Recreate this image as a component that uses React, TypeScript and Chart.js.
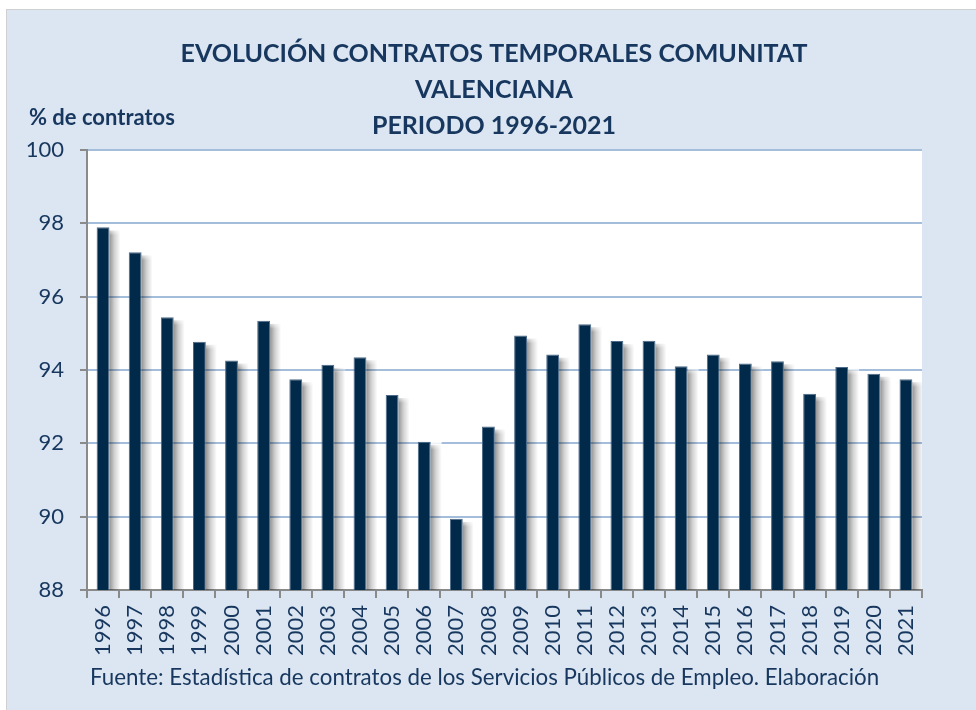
import React, { useEffect, useRef } from 'react';
import { Chart, registerables } from 'chart.js';

Chart.register(...registerables);

const years = [
  '1996', '1997', '1998', '1999', '2000', '2001', '2002', '2003', '2004',
  '2005', '2006', '2007', '2008', '2009', '2010', '2011', '2012', '2013',
  '2014', '2015', '2016', '2017', '2018', '2019', '2020', '2021',
];
const temporalPct = [
  97.89, 97.21, 95.44, 94.77, 94.26, 95.34, 93.75, 94.14, 94.35,
  93.32, 92.04, 89.94, 92.46, 94.94, 94.42, 95.25, 94.79, 94.80,
  94.10, 94.42, 94.18, 94.24, 93.35, 94.08, 93.90, 93.75,
];
const titleLines = [
  'EVOLUCIÓN CONTRATOS TEMPORALES COMUNITAT',
  'VALENCIANA',
  'PERIODO 1996-2021',
];
const yAxisLabel = '% de contratos';
const sourceText =
  'Fuente: Estadística de contratos de los Servicios Públicos de Empleo. Elaboración';
const yMin = 88;
const yMax = 100;
const yStep = 2;

const NAVY = '#17375e';
const BAR = '#00294a';
const GRID = '#a3bddb';
const AXIS = '#8a8a8a';
const FONT = 'Lato, "Open Sans", sans-serif';

const W = 969;
const H = 700;

const plotBgPlugin = {
  id: 'plotBg',
  beforeDraw(chart: any) {
    const { ctx, chartArea } = chart;
    ctx.save();
    ctx.fillStyle = '#ffffff';
    ctx.fillRect(chartArea.left, chartArea.top, chartArea.right - chartArea.left, chartArea.bottom - chartArea.top);
    ctx.restore();
  },
};

// soft drop shadow to the right of each bar, based on the bar elements' computed geometry
const shadowPlugin = {
  id: 'barShadow',
  beforeDatasetsDraw(chart: any) {
    const ctx = chart.ctx;
    const meta = chart.getDatasetMeta(0);
    const area = chart.chartArea;
    ctx.save();
    ctx.beginPath();
    ctx.rect(area.left, area.top, area.right - area.left, area.bottom - area.top);
    ctx.clip();
    meta.data.forEach((bar: any) => {
      const props = bar.getProps(['x', 'y', 'base', 'width'], true);
      const right = props.x + props.width / 2;
      const top = props.y + 3;
      const bottom = props.base;
      const w = 11;
      const g = ctx.createLinearGradient(right, 0, right + w, 0);
      g.addColorStop(0, 'rgba(0,0,0,0.42)');
      g.addColorStop(0.45, 'rgba(0,0,0,0.18)');
      g.addColorStop(1, 'rgba(0,0,0,0)');
      ctx.fillStyle = g;
      ctx.fillRect(right, top, w, bottom - top);
      // fade at the top of the shadow
      const g2 = ctx.createLinearGradient(0, top - 3, 0, top + 5);
      g2.addColorStop(0, 'rgba(255,255,255,1)');
      g2.addColorStop(1, 'rgba(255,255,255,0)');
      ctx.fillStyle = g2;
      ctx.fillRect(right, top - 3, w, 8);
    });
    ctx.restore();
  },
};

const textPlugin = {
  id: 'texts',
  afterDraw(chart: any) {
    const ctx = chart.ctx;
    ctx.save();
    ctx.fillStyle = NAVY;
    ctx.textBaseline = 'alphabetic';
    ctx.textAlign = 'center';
    ctx.font = `bold 25px ${FONT}`;
    const baselines = [52, 88, 124];
    titleLines.forEach((line, i) => ctx.fillText(line, 487, baselines[i]));
    ctx.textAlign = 'left';
    ctx.font = `bold 22px ${FONT}`;
    ctx.fillText(yAxisLabel, 22, 115);
    ctx.font = `22.3px ${FONT}`;
    ctx.fillText(sourceText, 83, 675);
    ctx.restore();
  },
};

export default function App() {
  const canvasRef = useRef<HTMLCanvasElement | null>(null);

  useEffect(() => {
    let chart: Chart | null = null;
    let cancelled = false;
    const make = () => {
      if (cancelled || !canvasRef.current) return;
      chart = new Chart(canvasRef.current, {
        type: 'bar',
        data: {
          labels: years,
          datasets: [
            {
              data: temporalPct,
              backgroundColor: BAR,
              borderColor: '#4d6a88',
              borderWidth: 1,
              barPercentage: 0.4,
              categoryPercentage: 1.0,
            },
          ],
        },
        options: {
          animation: false,
          responsive: false,
          maintainAspectRatio: false,
          layout: { padding: { top: 140, right: 54, left: 0, bottom: 0 } },
          plugins: {
            legend: { display: false },
            title: { display: false },
            tooltip: { enabled: false },
          },
          scales: {
            x: {
              grid: {
                offset: true,
                drawOnChartArea: false,
                drawTicks: true,
                tickLength: 8,
                color: AXIS,
                lineWidth: 2,
              },
              border: { display: true, color: AXIS, width: 2 },
              ticks: {
                minRotation: 90,
                maxRotation: 90,
                autoSkip: false,
                padding: 7,
                color: NAVY,
                font: { family: FONT, size: 22 },
              },
              afterFit(scale: any) {
                scale.height = 120;
              },
            },
            y: {
              min: yMin,
              max: yMax,
              ticks: {
                stepSize: yStep,
                padding: 16,
                color: NAVY,
                font: { family: FONT, size: 22 },
              },
              grid: {
                color: GRID,
                lineWidth: 2,
                tickColor: AXIS,
                tickLength: 7,
                drawTicks: true,
              },
              border: { display: true, color: AXIS, width: 2 },
              afterFit(scale: any) {
                scale.width = 80;
              },
            },
          },
        },
        plugins: [plotBgPlugin, shadowPlugin, textPlugin],
      });
    };
    const fontsApi: any = (document as any).fonts;
    if (fontsApi && fontsApi.load) {
      Promise.all([
        fontsApi.load(`20px Lato`),
        fontsApi.load(`bold 20px Lato`),
      ]).then(make, make);
    } else {
      make();
    }
    return () => {
      cancelled = true;
      if (chart) chart.destroy();
    };
  }, []);

  return (
    <div
      style={{
        position: 'absolute',
        left: 6,
        top: 9,
        width: W + 1,
        height: H + 1,
        boxSizing: 'border-box',
        borderLeft: '1px solid #d0d0d0',
        borderTop: '1px solid #d0d0d0',
        background: '#dce6f2',
      }}
    >
      <canvas ref={canvasRef} width={W} height={H} style={{ display: 'block', width: W, height: H }} />
    </div>
  );
}
